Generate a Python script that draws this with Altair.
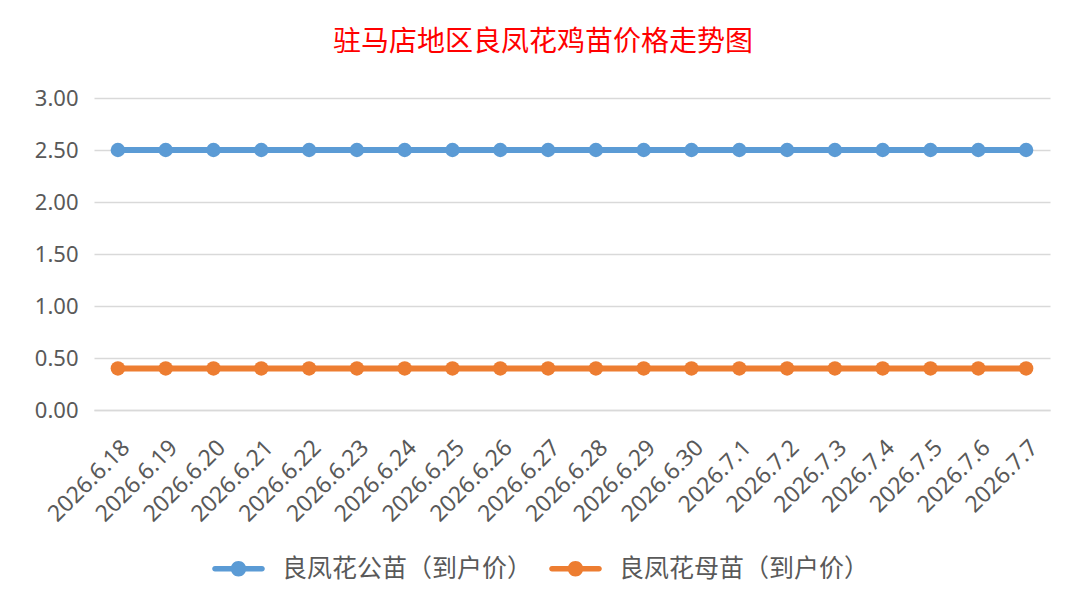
import altair as alt
import pandas as pd

dates = ["2026.6.18", "2026.6.19", "2026.6.20", "2026.6.21", "2026.6.22",
         "2026.6.23", "2026.6.24", "2026.6.25", "2026.6.26", "2026.6.27",
         "2026.6.28", "2026.6.29", "2026.6.30", "2026.7.1", "2026.7.2",
         "2026.7.3", "2026.7.4", "2026.7.5", "2026.7.6", "2026.7.7"]
male = [2.5] * 20
female = [0.4] * 20
series_names = ["良凤花公苗（到户价）", "良凤花母苗（到户价）"]
colors = ["#5B9BD5", "#ED7D31"]

rows = []
for i, d in enumerate(dates):
    rows.append({"date": d, "series": series_names[0], "price": male[i], "order": i})
    rows.append({"date": d, "series": series_names[1], "price": female[i], "order": i})
df = pd.DataFrame(rows)

legend_path = ("M-1,-0.12H1A0.12,0.12 0 0,1 1,0.12H-1A0.12,0.12 0 0,1 -1,-0.12Z"
               "M-0.33,0A0.33,0.33 0 1,1 0.33,0A0.33,0.33 0 1,1 -0.33,0Z")

x_enc = alt.X("date:N", sort=dates, title=None,
              scale=alt.Scale(type="point", padding=0.5),
              axis=alt.Axis(labelAngle=-45, labelFont="Noto Sans", labelFontSize=23,
                            labelColor="#595959", ticks=False, domain=True,
                            domainColor="#D9D9D9", domainWidth=1.5, grid=False,
                            labelPadding=26))
y_enc = alt.Y("price:Q", title=None,
              scale=alt.Scale(domain=[0, 3]),
              axis=alt.Axis(values=[0, 0.5, 1, 1.5, 2, 2.5, 3], format=".2f",
                            labelFont="Noto Sans", labelFontSize=22, labelColor="#595959",
                            ticks=False, domain=False, grid=True, gridColor="#D9D9D9",
                            gridWidth=1.5, labelPadding=16))
legend = alt.Legend(title=None, orient="none", direction="horizontal",
                    legendX=121, legendY=447,
                    symbolType=legend_path, symbolSize=2209,
                    symbolStrokeWidth=0, labelFont="Noto Sans CJK SC",
                    labelFontSize=25, labelColor="#595959", labelLimit=0,
                    labelOffset=20, columnPadding=16)
color_enc = alt.Color("series:N", sort=series_names,
                      scale=alt.Scale(domain=series_names, range=colors),
                      legend=legend)

points = alt.Chart(df).mark_point(filled=True, size=210, opacity=1).encode(
    x=x_enc, y=y_enc, color=color_enc)
lines = alt.Chart(df).mark_line(strokeWidth=6).encode(
    x=x_enc, y=y_enc, color=color_enc, order="order:Q")

chart = alt.layer(points, lines).properties(
    width=956, height=312,
    title=alt.Title("驻马店地区良凤花鸡苗价格走势图", font="Noto Sans CJK SC", fontSize=28,
                    color="#FF0000", fontWeight="normal", anchor="middle", offset=30, dx=-29),
    autosize=alt.AutoSizeParams(type="none"),
    padding={"left": 86, "top": 90, "right": 27, "bottom": 197},
    background="white"
).configure_view(stroke=None)

chart.save("out.html", embed_options={"renderer": "svg", "actions": False})
